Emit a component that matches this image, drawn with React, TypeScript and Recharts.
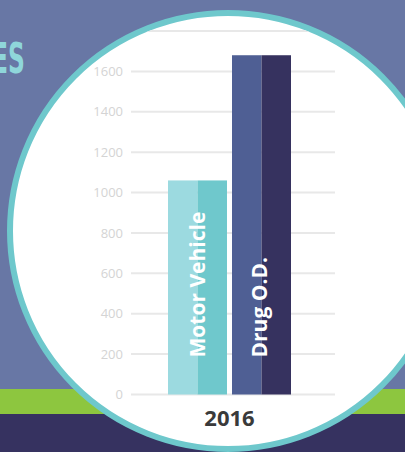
import { BarChart, Bar, XAxis, YAxis, CartesianGrid } from "recharts";

const years = ["2016"];
const motorVehicle = [1060];
const drugOD = [1680];
const yTicks = [0, 200, 400, 600, 800, 1000, 1200, 1400, 1600, 1800];

const data = years.map((year, i) => ({
  year,
  motor: motorVehicle[i],
  drug: drugOD[i],
}));

// two-tone bar with a vertical label inside
function twoTone(light: string, dark: string, label: string, shift: number) {
  return (props: any) => {
    const { x, y, width, height } = props;
    const half = width / 2;
    const cx = x + half;
    const base = y + height;
    return (
      <g>
        <rect x={x} y={y} width={half} height={height} fill={light} />
        <rect x={x + half} y={y} width={width - half} height={height} fill={dark} />
        <text
          transform={`translate(${cx},${base - 37}) rotate(-90)`}
          dy={shift}
          textAnchor="start"
          fill="#ffffff"
          fontFamily="'Open Sans', sans-serif"
          fontWeight={700}
          fontSize={21}
        >
          {label}
        </text>
      </g>
    );
  };
}

export default function App() {
  return (
    <div
      style={{
        position: "absolute",
        left: 0,
        top: 0,
        width: 405,
        height: 452,
        overflow: "hidden",
        background: "#6877a5",
      }}
    >
      <div style={{ position: "absolute", left: 0, top: 389, width: 405, height: 25, background: "#8dc63f" }} />
      <div style={{ position: "absolute", left: 0, top: 414, width: 405, height: 38, background: "#363260" }} />

      <svg width={405} height={452} style={{ position: "absolute", left: 0, top: 0 }}>
        <text
          transform="translate(25,73) scale(0.62,1)"
          textAnchor="end"
          fill="#8fd6da"
          fontFamily="'Liberation Sans Narrow', 'DejaVu Sans Condensed', sans-serif"
          fontWeight={700}
          fontSize={42}
        >
          ES
        </text>
      </svg>

      <div
        style={{
          position: "absolute",
          left: 7,
          top: 10,
          width: 442,
          height: 442,
          boxSizing: "border-box",
          borderRadius: "50%",
          border: "6px solid #6ec8cc",
          background: "#ffffff",
          overflow: "hidden",
        }}
      >
        <div style={{ position: "absolute", left: -13, top: -16 }}>
          <BarChart
            width={405}
            height={452}
            data={data}
            margin={{ top: 31, right: 70, bottom: 27.5, left: 71 }}
            barGap={5}
            barSize={59}
          >
            <CartesianGrid vertical={false} stroke="#e8e8e8" strokeWidth={2} />
            <XAxis
              dataKey="year"
              height={30}
              axisLine={false}
              tickLine={false}
              tickMargin={10}
              padding={{ left: 0, right: 7 }}
              tick={{ fill: "#3a3a3a", fontSize: 22, fontWeight: 700, fontFamily: "'Open Sans', sans-serif" }}
            />
            <YAxis
              width={60}
              domain={[0, 1800]}
              ticks={yTicks}
              interval={0}
              axisLine={false}
              tickLine={false}
              tick={{ fill: "#d4d4d4", fontSize: 13, fontFamily: "'Open Sans', sans-serif" }}
            />
            <Bar
              dataKey="motor"
              isAnimationActive={false}
              shape={twoTone("#9cdae0", "#6fc8cc", "Motor Vehicle", 7)}
            />
            <Bar
              dataKey="drug"
              isAnimationActive={false}
              shape={twoTone("#4f5f94", "#36325f", "Drug O.D.", 5)}
            />
          </BarChart>
        </div>
      </div>
    </div>
  );
}
